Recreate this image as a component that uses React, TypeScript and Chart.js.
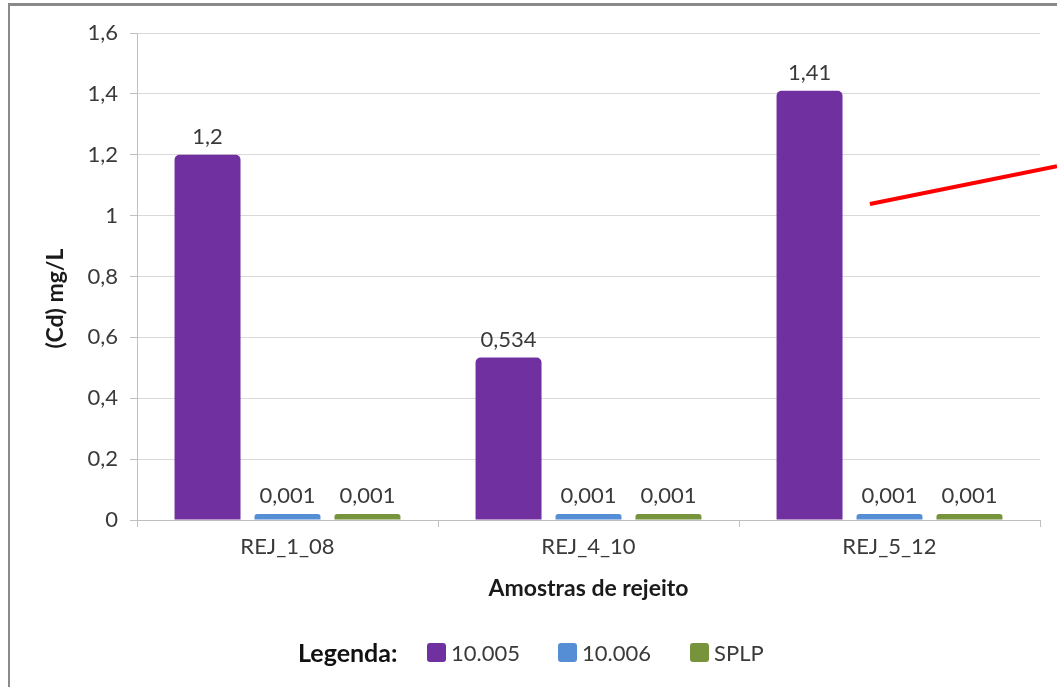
import React, { useEffect, useRef } from "react";
import { Chart, registerables } from "chart.js";

Chart.register(...registerables);

const categories = ["REJ_1_08", "REJ_4_10", "REJ_5_12"];
const seriesNames = ["10.005", "10.006", "SPLP"];
const series10005 = [1.2, 0.534, 1.41];
const series10006 = [0.001, 0.001, 0.001];
const seriesSPLP = [0.001, 0.001, 0.001];
const seriesColors = ["#7030A0", "#558ED5", "#77933C"];
const yTickValues = [0, 0.2, 0.4, 0.6, 0.8, 1, 1.2, 1.4, 1.6];
const yTitle = "(Cd) mg/L";
const xTitle = "Amostras de rejeito";
const legendTitle = "Legenda:";

const FONT = "Lato";
const TEXT = "#3a3a3a";

const fmt = (v: number) => String(parseFloat(v.toFixed(3))).replace(".", ",");

const valueLabels = {
  id: "valueLabels",
  afterDatasetsDraw(chart: any) {
    const ctx = chart.ctx;
    ctx.save();
    ctx.font = `22px ${FONT}`;
    ctx.fillStyle = TEXT;
    ctx.textAlign = "center";
    ctx.textBaseline = "bottom";
    chart.data.datasets.forEach((ds: any, i: number) => {
      const meta = chart.getDatasetMeta(i);
      meta.data.forEach((el: any, j: number) => {
        ctx.fillText(fmt(ds.data[j]), el.x, el.y - 7);
      });
    });
    ctx.restore();
  },
};

const extras = {
  id: "extras",
  afterDraw(chart: any) {
    const ctx = chart.ctx;
    const { top, bottom } = chart.chartArea;
    ctx.save();
    // y axis title
    ctx.font = `bold 23px ${FONT}`;
    ctx.fillStyle = "#1a1a1a";
    ctx.textAlign = "center";
    ctx.textBaseline = "middle";
    ctx.translate(56, (top + bottom) / 2 + 22);
    ctx.rotate(-Math.PI / 2);
    ctx.fillText(yTitle, 0, 0);
    ctx.restore();
    // red annotation line
    ctx.save();
    ctx.strokeStyle = "#FF0000";
    ctx.lineWidth = 4;
    ctx.beginPath();
    ctx.moveTo(chart.width * 0.823, chart.height * 0.297);
    ctx.lineTo(chart.width * 1.0, chart.height * 0.242);
    ctx.stroke();
    ctx.restore();
  },
};

export default function App() {
  const ref = useRef<HTMLCanvasElement | null>(null);

  useEffect(() => {
    if (!ref.current) return;
    const values = [series10005, series10006, seriesSPLP];
    const chart = new Chart(ref.current, {
      type: "bar",
      data: {
        labels: categories,
        datasets: seriesNames.map((name, i) => ({
          label: name,
          data: values[i],
          backgroundColor: seriesColors[i],
          borderRadius: { topLeft: 5, topRight: 5, bottomLeft: 0, bottomRight: 0 },
          borderSkipped: "start" as const,
          minBarLength: 6,
          categoryPercentage: 0.797,
          barPercentage: 0.825,
        })),
      },
      options: {
        responsive: false,
        animation: false,
        devicePixelRatio: 1,
        layout: { padding: { left: 38, top: 33, right: 17, bottom: 77 } },
        plugins: {
          legend: { display: false },
          tooltip: { enabled: false },
          title: { display: false },
        },
        scales: {
          x: {
            afterFit(scale: any) {
              scale.height = 90;
            },
            grid: {
              display: true,
              drawOnChartArea: false,
              drawTicks: true,
              tickLength: 7,
              offset: true,
              color: "#BFBFBF",
            },
            border: { color: "#BFBFBF", width: 1 },
            ticks: {
              color: TEXT,
              font: { family: FONT, size: 22 },
              padding: 7,
              maxRotation: 0,
            },
            title: {
              display: true,
              text: xTitle,
              color: "#1a1a1a",
              font: { family: FONT, size: 23, weight: "bold" },
              padding: { top: 0, bottom: 8 },
            },
          },
          y: {
            min: 0,
            max: 1.6,
            afterFit(scale: any) {
              scale.width = 99;
            },
            afterBuildTicks(scale: any) {
              scale.ticks = yTickValues.map((v) => ({ value: v }));
            },
            grid: {
              color: "#D9D9D9",
              tickLength: 7,
              tickColor: "#BFBFBF",
            },
            border: { color: "#BFBFBF", width: 1 },
            ticks: {
              color: TEXT,
              font: { family: FONT, size: 22 },
              padding: 12,
              callback: (v: any) => fmt(Number(v)),
            },
          },
        },
      },
      plugins: [valueLabels, extras],
    });
    return () => chart.destroy();
  }, []);

  return (
    <div
      style={{
        position: "fixed",
        left: 0,
        top: 0,
        width: 1057,
        height: 687,
        background: "#fff",
        overflow: "hidden",
        fontFamily: FONT,
      }}
    >
      <div
        style={{
          position: "absolute",
          left: 8,
          top: 3,
          right: -10,
          bottom: -10,
          borderTop: "3px solid #8A8A8A",
          borderLeft: "2px solid #8A8A8A",
        }}
      />
      <canvas
        ref={ref}
        width={1057}
        height={687}
        style={{ position: "absolute", left: 0, top: 0, width: 1057, height: 687 }}
      />
      <div
        style={{
          position: "absolute",
          left: 298,
          top: 636,
          height: 32,
          display: "flex",
          alignItems: "center",
          fontSize: 22,
          color: TEXT,
          whiteSpace: "nowrap",
        }}
      >
        <span style={{ fontWeight: "bold", color: "#111", fontSize: 25, width: 129 }}>
          {legendTitle}
        </span>
        {seriesNames.map((name, i) => (
          <span
            key={name}
            style={{ display: "flex", alignItems: "center", width: i === 0 ? 131 : 132 }}
          >
            <span
              style={{
                display: "inline-block",
                width: 19,
                height: 19,
                borderRadius: 3,
                background: seriesColors[i],
                marginRight: 5,
              }}
            />
            <span>{name}</span>
          </span>
        ))}
      </div>
    </div>
  );
}
